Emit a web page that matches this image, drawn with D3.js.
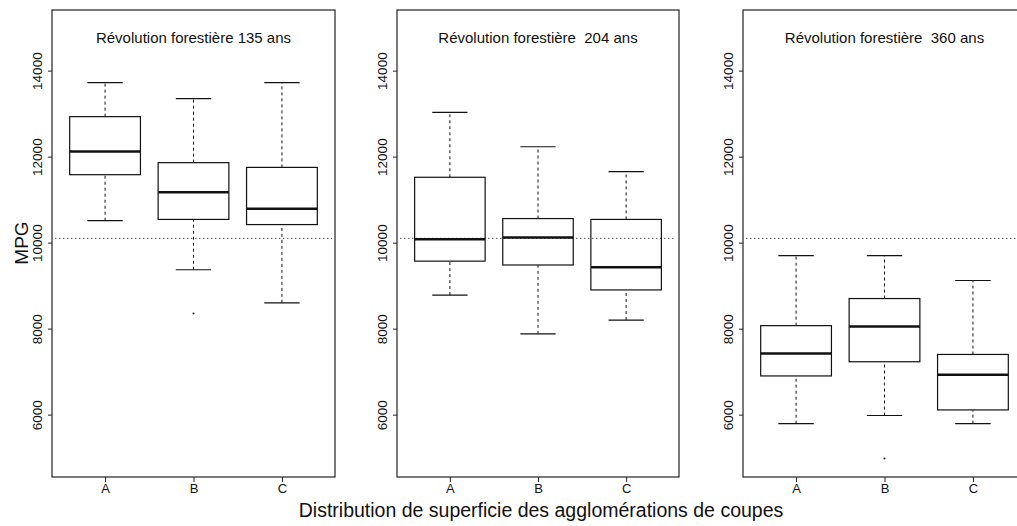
<!DOCTYPE html>
<html><head><meta charset="utf-8">
<script src="https://cdn.jsdelivr.net/npm/d3@7/dist/d3.min.js"></script>
<style>body{margin:0;background:#fff}svg{display:block}text{font-family:"Liberation Sans",Arial,sans-serif;fill:#111}</style>
</head><body>
<script>
const categories = ["A","B","C"];
const panelTitles = ["Révolution forestière 135 ans","Révolution forestière  204 ans","Révolution forestière  360 ans"];
const yTicks = [6000,8000,10000,12000,14000];
const refLine = 10100;
// [whiskerLow, Q1, median, Q3, whiskerHigh] per category, per panel
const stats135 = [[10510,11580,12120,12930,13720],[9370,10540,11170,11860,13350],[8600,10420,10790,11750,13720]];
const stats204 = [[8780,9570,10080,11520,13030],[7880,9480,10120,10560,12230],[8200,8900,9430,10540,11650]];
const stats360 = [[5790,6900,7420,8070,9700],[5980,7230,8050,8700,9700],[5790,6110,6930,7400,9120]];
const outliers135 = [[],[8350],[]];
const outliers204 = [[],[],[]];
const outliers360 = [[],[4980],[]];
const xTitle = "Distribution de superficie des agglomérations de coupes";
const yTitle = "MPG";

const W=1017,H=526;
const svg=d3.select("body").append("svg").attr("width",W).attr("height",H);
const panels=[
 {x0:52,x1:335,stats:stats135,out:outliers135,title:panelTitles[0]},
 {x0:397,x1:679,stats:stats204,out:outliers204,title:panelTitles[1]},
 {x0:743,x1:1026,stats:stats360,out:outliers360,title:panelTitles[2]}
];
const plotTop=10,plotBottom=477;
const y=d3.scaleLinear().domain([4550,15410]).range([plotBottom,plotTop]);

panels.forEach(p=>{
  const g=svg.append("g");
  const x=d3.scaleLinear().domain([0.4,3.6]).range([p.x0,p.x1]);
  const unit=x(2)-x(1);
  const bw=unit*0.8;
  g.append("line").attr("x1",p.x0+3).attr("x2",p.x1-3).attr("y1",y(refLine)).attr("y2",y(refLine))
   .attr("stroke","#555").attr("stroke-width",1).attr("stroke-dasharray","1.5,2.5");
  categories.forEach((c,i)=>{
    const s=p.stats[i], cx=x(i+1);
    const ln=(x1,y1,x2,y2,w,dash)=>{const l=g.append("line").attr("x1",x1).attr("y1",y1).attr("x2",x2).attr("y2",y2).attr("stroke","#111").attr("stroke-width",w);if(dash)l.attr("stroke-dasharray",dash);return l;};
    ln(cx,y(s[0]),cx,y(s[1]),1,"3,3");
    ln(cx,y(s[3]),cx,y(s[4]),1,"3,3");
    ln(cx-bw/4,y(s[0]),cx+bw/4,y(s[0]),1.2);
    ln(cx-bw/4,y(s[4]),cx+bw/4,y(s[4]),1.2);
    g.append("rect").attr("x",cx-bw/2).attr("y",y(s[3])).attr("width",bw).attr("height",y(s[1])-y(s[3]))
     .attr("fill","none").attr("stroke","#111").attr("stroke-width",1.2);
    ln(cx-bw/2,y(s[2]),cx+bw/2,y(s[2]),2.5);
    p.out[i].forEach(v=>g.append("circle").attr("cx",cx).attr("cy",y(v)).attr("r",1).attr("fill","#111"));
  });
  g.append("rect").attr("x",p.x0).attr("y",plotTop).attr("width",p.x1-p.x0).attr("height",plotBottom-plotTop)
   .attr("fill","none").attr("stroke","#222").attr("stroke-width",1.2);
  const ya=g.append("g").attr("transform",`translate(${p.x0},0)`)
   .call(d3.axisLeft(y).tickValues(yTicks).tickSize(4).tickFormat(d3.format("d")));
  ya.select(".domain").remove();
  ya.selectAll(".tick text").attr("transform","rotate(-90)").attr("x",0).attr("y",-10).attr("dy",0)
    .attr("text-anchor","middle").style("font-size","13.5px");
  const xa=g.append("g").attr("transform",`translate(0,${plotBottom})`)
   .call(d3.axisBottom(d3.scalePoint().domain(categories).range([x(1),x(3)])).tickSize(5).tickPadding(2));
  xa.select(".domain").remove();
  xa.selectAll("text").style("font-size","13px");
  g.append("text").attr("x",(p.x0+p.x1)/2).attr("y",43).attr("text-anchor","middle")
   .style("font-size","15px").style("white-space","pre").text(p.title);
});
svg.selectAll(".tick line").attr("stroke","#222");
svg.append("text").attr("x",541).attr("y",517).attr("text-anchor","middle").style("font-size","19.5px").text(xTitle);
svg.append("text").attr("transform",`translate(28,243) rotate(-90)`).attr("text-anchor","middle").style("font-size","19px").text(yTitle);
</script>
</body></html>
